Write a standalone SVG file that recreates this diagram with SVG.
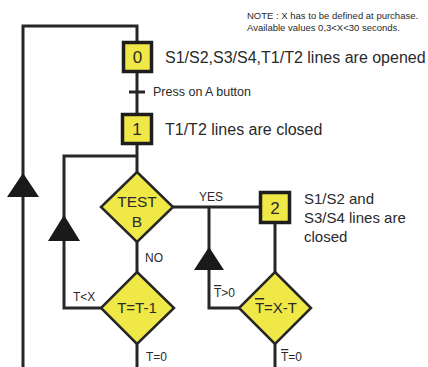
<svg xmlns="http://www.w3.org/2000/svg" width="428" height="367" viewBox="0 0 428 367">
<style>
.ln{fill:none;stroke:#262626;stroke-width:3}
.box{fill:#efe846;stroke:#1e1e1e;stroke-width:3.5}
.dia{fill:#efe846;stroke:#262626;stroke-width:2.5}
.arr{fill:#1a1a1a}
text{font-family:"Liberation Sans",Arial,sans-serif;fill:#2a2a2a}
.num{font-size:17px;text-anchor:middle}
.big{font-size:16px}
.mid{font-size:15px}
.lab{font-size:12px}
.note{font-size:9.5px}
</style>
<rect width="428" height="367" fill="#ffffff"/>
<g id="connectors">
<polyline class="ln" points="23,367 23,26 137,26 137,172"/>
<line class="ln" x1="129" y1="92" x2="145" y2="92"/>
<polyline class="ln" points="137,156 64,156 64,308 101,308"/>
<line class="ln" x1="137" y1="242" x2="137" y2="272"/>
<line class="ln" x1="173" y1="207" x2="260" y2="207"/>
<polyline class="ln" points="209,207 209,308 239,308"/>
<line class="ln" x1="275" y1="223" x2="275" y2="272"/>
<line class="ln" x1="137" y1="344" x2="137" y2="367"/>
<line class="ln" x1="275" y1="344" x2="275" y2="367"/>
<polygon class="arr" points="23,173 7,197 39,197"/>
<polygon class="arr" points="64,215 48,241 80,241"/>
<polygon class="arr" points="209,247 194,270 224,270"/>
</g>
<g id="note">
<text class="note" x="247" y="19">NOTE : X has to be defined at purchase.</text>
<text class="note" x="247" y="31">Available values 0,3&lt;X&lt;30 seconds.</text>
</g>
<g id="step0">
<rect class="box" x="123.5" y="42.5" width="28" height="29"/>
<text class="num" x="137.5" y="63">0</text>
<text class="big" x="165" y="63">S1/S2,S3/S4,T1/T2 lines are opened</text>
</g>
<g id="transition">
<text x="153" y="96" style="font-size:12.5px">Press on A button</text>
</g>
<g id="step1">
<rect class="box" x="122.5" y="114.5" width="29" height="29"/>
<text class="num" x="137" y="135">1</text>
<text class="big" x="165" y="135">T1/T2 lines are closed</text>
</g>
<g id="testB">
<polygon class="dia" points="137,172 173,207 137,242 101,207"/>
<text class="mid" x="137" y="207" text-anchor="middle" style="font-size:15.5px">TEST</text>
<text class="mid" x="137" y="227" text-anchor="middle" style="font-size:15.5px">B</text>
<text class="lab" x="211" y="201" text-anchor="middle">YES</text>
<text class="lab" x="145" y="262">NO</text>
</g>
<g id="step2">
<rect class="box" x="260.5" y="192.5" width="29" height="30"/>
<text class="num" x="275" y="214">2</text>
<text class="mid" x="304" y="204">S1/S2 and</text>
<text class="mid" x="304" y="223">S3/S4 lines are</text>
<text class="mid" x="304" y="242">closed</text>
</g>
<g id="decT">
<polygon class="dia" points="137,272 174,308 137,344 101,308"/>
<text class="mid" x="137" y="313" text-anchor="middle">T=T-1</text>
<text class="lab" x="73" y="301">T&lt;X</text>
<text class="lab" x="146" y="361">T=0</text>
</g>
<g id="decTbar">
<polygon class="dia" points="275,272 311,308 275,344 239,308"/>
<text class="mid" x="276" y="313" text-anchor="middle"><tspan text-decoration="overline">T</tspan>=X-T</text>
<text class="lab" x="214" y="297"><tspan text-decoration="overline">T</tspan>&gt;0</text>
<text class="lab" x="281" y="361"><tspan text-decoration="overline">T</tspan>=0</text>
</g>
</svg>
